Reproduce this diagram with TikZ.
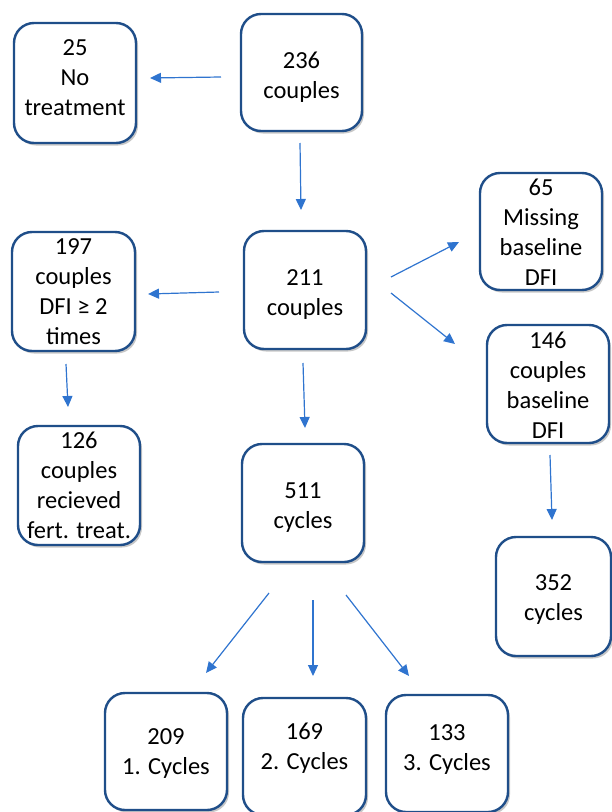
\documentclass[tikz,border=0pt]{standalone}
\usepackage{fontspec}
\setmainfont{Carlito}
\usetikzlibrary{arrows.meta,shadows}
\definecolor{boxblue}{HTML}{1F4E89}
\definecolor{arrblue}{HTML}{2F74CF}
\begin{document}
\begin{tikzpicture}[x=1bp,y=-1bp,
  box/.style={draw=boxblue, line width=2.4bp, rounded corners=20bp, fill=white,
    inner sep=0pt, minimum width=122bp, minimum height=118bp,
    drop shadow={shadow xshift=2bp, shadow yshift=-2.5bp, fill=black, opacity=0.22}},
  txt/.style={align=center, font=\fontsize{24.5bp}{30bp}\selectfont, inner sep=0pt},
  arr/.style={draw=arrblue, line width=1.2bp, -{Triangle[length=11bp,width=10bp]}}]
\useasboundingbox (0,0) rectangle (612,812);
% boxes
\node[box, minimum height=120bp] (n25) at (75,83) {};
\node[box, minimum width=121bp, minimum height=117bp] (n236) at (301.5,72.5) {};
\node[box] (n211) at (305,290) {};
\node[box, minimum width=123bp, minimum height=119bp] (n197) at (73.5,291.5) {};
\node[box, minimum height=119bp] (n126) at (79,485.5) {};
\node[box] (n511) at (303,503) {};
\node[box, minimum height=117bp] (n65) at (541,231.5) {};
\node[box] (n146) at (548,384) {};
\node[box, minimum width=115bp, minimum height=119bp] (n352) at (553.5,596.5) {};
\node[box, minimum height=117bp] (n209) at (166,751.5) {};
\node[box, minimum width=123bp, minimum height=117bp] (n169) at (304.5,756.5) {};
\node[box, minimum height=117bp] (n133) at (447,753.5) {};
% texts
\node[txt, yshift=5bp] (t25) at (n25) {25\\No\\treatment};
\node[txt, yshift=-4.5bp] (t236) at (n236) {236\\couples};
\node[txt, yshift=-4.5bp] (t211) at (n211) {211\\couples};
\node[txt] (t197) at (n197) {197\\couples\\DFI ≥ 2\\times};
\node[txt] (t126) at (n126) {126\\couples\\recieved\\fert. treat.};
\node[txt, yshift=-5bp] (t511) at (n511) {511\\cycles};
\node[txt, yshift=-1bp] (t65) at (n65) {65\\Missing\\baseline\\DFI};
\node[txt, yshift=-1bp] (t146) at (n146) {146\\couples\\baseline\\DFI};
\node[txt, yshift=-3.5bp] (t352) at (n352) {352\\cycles};
\node[txt, yshift=-2bp] (t209) at (n209) {209\\1. Cycles};
\node[txt, yshift=8bp] (t169) at (n169) {169\\2. Cycles};
\node[txt, yshift=4bp] (t133) at (n133) {133\\3. Cycles};
% arrow end points
\coordinate (a1s) at (221,77);  \coordinate (a1e) at (150,78);
\coordinate (a2s) at (300,143); \coordinate (a2e) at (301,210);
\coordinate (a3s) at (219,292); \coordinate (a3e) at (148,294);
\coordinate (a4s) at (66,364);  \coordinate (a4e) at (68,407);
\coordinate (a5s) at (303,363); \coordinate (a5e) at (305,428);
\coordinate (a6s) at (391,277); \coordinate (a6e) at (459,242);
\coordinate (a7s) at (391,293); \coordinate (a7e) at (455,344);
\coordinate (a8s) at (550,455); \coordinate (a8e) at (552,520);
\coordinate (a9s) at (269,593); \coordinate (a9e) at (206,673);
\coordinate (a10s) at (313,600); \coordinate (a10e) at (313,676);
\coordinate (a11s) at (346,595); \coordinate (a11e) at (409,676);
\foreach \i in {1,...,11} {\draw[arr] (a\i s) -- (a\i e);}
\end{tikzpicture}
\end{document}
